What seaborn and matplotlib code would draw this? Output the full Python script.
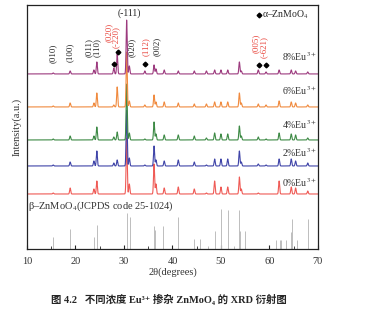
import numpy as np
import pandas as pd
import matplotlib
matplotlib.use("Agg")
import matplotlib.pyplot as plt
import seaborn as sns

# ---------------- data ----------------
samples = ["0%", "2%", "4%", "6%", "8%"]
colors = ["#ef5a55", "#3f44a8", "#3d8a45", "#f08a3e", "#9c3a7e"]
offsets = [55, 83, 109, 142, 175]

peak_pos = [15.4, 18.9, 23.8, 24.4, 27.9, 28.6, 30.55, 31.1, 34.3, 36.2, 36.6,
            38.3, 41.2, 44.5, 47.0, 48.7, 50.0, 51.4, 53.8, 54.2, 57.7, 59.3,
            62.0, 64.5, 65.4, 67.9]
h_0 = [1, 6, 5, 13, 0, 0, 56, 10, 0, 30, 10, 6, 7, 5, 1, 13, 7, 7, 17, 5, 1, 0, 13, 7, 6, 3]
h_2 = [1, 4, 5, 15, 3, 6, 56, 8, 1, 20, 6, 5, 6, 4, 1, 7, 7, 7, 15, 4, 2, 1, 7, 7, 5, 3]
h_4 = [1, 4, 4, 13, 3, 8, 56, 7, 1, 18, 6, 5, 5, 4, 2, 7, 6, 6, 14, 4, 3, 1, 7, 6, 5, 2]
h_6 = [1, 4, 4, 14, 2, 20, 55, 6, 2, 12, 5, 5, 4, 3, 3, 5, 5, 5, 14, 4, 3, 2, 6, 5, 4, 2]
h_8 = [1, 3, 4, 12, 6, 20, 54, 8, 3, 9, 5, 4, 3, 3, 3, 4, 4, 4, 12, 3, 4, 2, 4, 4, 3, 2]
heights = [h_0, h_2, h_4, h_6, h_8]

ref_pos = [15.4, 18.9, 23.8, 24.5, 30.55, 31.2, 36.2, 36.5, 38.1, 41.2, 44.5,
           45.7, 47.4, 48.8, 50.1, 51.4, 52.7, 53.7, 54.0, 54.9, 61.3, 62.2,
           62.4, 63.5, 64.5, 64.6, 65.6, 67.9]
ref_h = [12, 20, 12, 24, 36, 32, 23, 19, 23, 32, 10, 10, 3, 18, 40, 39, 3, 39,
         18, 18, 9, 9, 9, 9, 17, 30, 9, 30]

hkl_black = ["(010)", "(100)", "(011)", "(110)", "(020)", "(002)"]
hkl_black_x = [15.4, 18.9, 22.8, 24.3, 31.7, 36.8]
hkl_black_y = [186, 187, 192, 192, 192, 193]
hkl_red = ["(020)", "(-220)", "(112)", "(005)", "(-621)"]
hkl_red_x = [26.9, 28.4, 34.5, 57.1, 58.8]
hkl_red_y = [207, 201, 193, 196, 191]

alpha_x = [27.9, 28.7, 34.3, 57.8, 59.3]
alpha_y = [185, 197, 185, 184, 184]

label_y = [66, 96, 124, 158, 192]

# ---------------- build patterns ----------------
two_theta = np.arange(10, 70.001, 0.02)
frames = []
for s, off, hs in zip(samples, offsets, heights):
    y = np.full_like(two_theta, off, dtype=float)
    for p, h in zip(peak_pos, hs):
        y += h * np.exp(-0.5 * ((two_theta - p) / 0.11) ** 2)
    frames.append(pd.DataFrame({"two_theta": two_theta, "intensity": y, "sample": s}))
df = pd.concat(frames, ignore_index=True)

# ---------------- plot ----------------
sns.set_style("ticks")
plt.rcParams["font.family"] = ["Liberation Serif", "DejaVu Serif", "Noto Sans CJK SC"]
plt.rcParams["mathtext.fontset"] = "stix"

fig = plt.figure(figsize=(3.65, 3.27), dpi=100)
ax = fig.add_axes([0.074, 0.2385, 0.797, 0.7465])

sns.lineplot(data=df, x="two_theta", y="intensity", hue="sample",
             palette=dict(zip(samples, colors)), hue_order=samples,
             estimator=None, sort=False, legend=False, lw=0.8, ax=ax)

ax.vlines(ref_pos, 0, ref_h, color="#bdbdbd", lw=0.7)

fs = 6.3
for t, x, y in zip(hkl_black, hkl_black_x, hkl_black_y):
    ax.text(x, y, t, rotation=90, ha="center", va="bottom", fontsize=fs, color="#222222")
for t, x, y in zip(hkl_red, hkl_red_x, hkl_red_y):
    ax.text(x, y, t, rotation=90, ha="center", va="bottom", fontsize=fs, color="#e8433a")

ax.plot(alpha_x, alpha_y, ls="none", marker="D", ms=2.4, color="black")
ax.plot([57.9], [234], ls="none", marker="D", ms=2.4, color="black")
ax.text(58.5, 234, r"α–ZnMoO$_4$", fontsize=7, va="center", ha="left")
ax.text(31.2, 236, "(-111)", fontsize=7, ha="center", va="center")

for s, y in zip(samples, label_y):
    ax.text(69.7, y, s + r"Eu$^{3+}$", fontsize=7, ha="right", va="center", color="#333333")

ax.text(10.2, 43, r"β–ZnMoO$_4$(JCPDS code 25-1024)", fontsize=7.5, ha="left",
        va="center", color="#333333")

ax.set_xlim(10, 70)
ax.set_ylim(0, 244)
ax.set_yticks([])
ax.set_xticks([10, 20, 30, 40, 50, 60, 70])
ax.set_xticks([15, 25, 35, 45, 55, 65], minor=True)
ax.tick_params(axis="x", which="major", direction="in", length=3, width=0.8,
               labelsize=7.5, labelcolor="#333333", pad=6)
ax.tick_params(axis="x", which="minor", direction="in", length=2, width=0.6)
for sp in ax.spines.values():
    sp.set_visible(True)
    sp.set_linewidth(0.9)
    sp.set_color("#222222")

ax.set_xlabel("2θ(degrees)", fontsize=7.5, labelpad=1, color="#333333")
ax.set_ylabel("Intensity(a.u.)", fontsize=7.5, labelpad=4, color="#333333")

fig.text(0.463, 0.083, "图 4.2   不同浓度 Eu³⁺ 掺杂 ZnMoO₄ 的 XRD 衍射图",
         fontsize=7.5, fontweight="bold", ha="center", va="center",
         family=["Liberation Serif", "DejaVu Serif", "Noto Sans CJK SC"])

fig.savefig("out.png", dpi=100)
